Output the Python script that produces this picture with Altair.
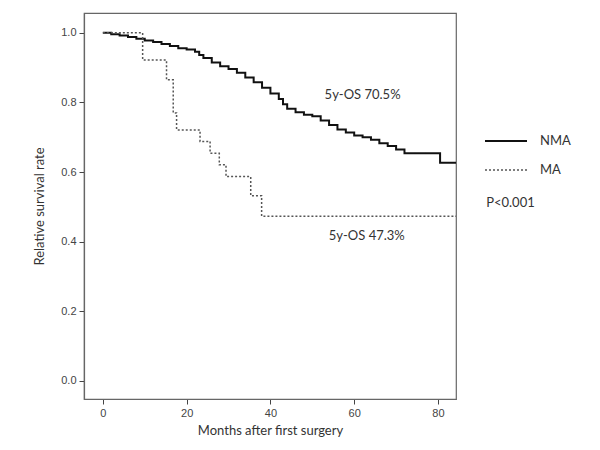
import altair as alt
import pandas as pd

groups = ["NMA", "MA"]

nma_months = [0, 2, 4, 6, 8, 10, 12, 14, 16, 18, 20, 22, 23, 24, 26, 28, 30, 32, 34, 36,
              38, 40, 42, 43, 44, 46, 48, 50, 52, 54, 56, 58, 60, 62, 64, 66, 68, 70, 72,
              80.5, 85]
nma_surv = [1.0, 0.996, 0.992, 0.988, 0.983, 0.978, 0.974, 0.968, 0.962, 0.956, 0.952,
            0.946, 0.936, 0.928, 0.915, 0.904, 0.896, 0.885, 0.872, 0.858, 0.842, 0.826,
            0.810, 0.795, 0.782, 0.772, 0.765, 0.760, 0.748, 0.735, 0.722, 0.714, 0.705,
            0.700, 0.693, 0.683, 0.675, 0.665, 0.654, 0.627, 0.627]

ma_months = [0, 9.5, 15.2, 16.8, 17.6, 23.2, 25.6, 27.8, 29.4, 35.3, 37.9, 85]
ma_surv = [1.0, 0.922, 0.865, 0.77, 0.721, 0.688, 0.654, 0.621, 0.587, 0.532, 0.473, 0.473]

ann_x = [62, 63, 91.5]
ann_y = [0.822, 0.417, 0.511]
ann_text = ["5y-OS 70.5%", "5y-OS 47.3%", "P<0.001"]
ann_align = ["center", "center", "left"]

df = pd.concat([
    pd.DataFrame({"month": nma_months, "surv": nma_surv, "group": "NMA"}),
    pd.DataFrame({"month": ma_months, "surv": ma_surv, "group": "MA"}),
])
ann = pd.DataFrame({"x": ann_x, "y": ann_y, "text": ann_text, "align": ann_align})

xscale = alt.Scale(domain=[-4.5, 84.3], nice=False, zero=False)
yscale = alt.Scale(domain=[-0.052, 1.057], nice=False, zero=False)

leg = alt.Legend(
    title=None, orient="none", legendX=400, legendY=106,
    symbolType="stroke", symbolSize=1764, labelOffset=12,
    labelFont="Lato", labelFontSize=13, labelColor="#333",
    rowPadding=0,
)

lines = alt.Chart(df).mark_line(interpolate="step-after", clip=True).encode(
    x=alt.X("month:Q", scale=xscale,
            axis=alt.Axis(values=[0, 20, 40, 60, 80], title="Months after first surgery",
                          titlePadding=6)),
    y=alt.Y("surv:Q", scale=yscale,
            axis=alt.Axis(values=[0, 0.2, 0.4, 0.6, 0.8, 1.0], format=".1f",
                          title="Relative survival rate", titlePadding=14)),
    color=alt.Color("group:N", scale=alt.Scale(domain=groups, range=["#111111", "#555555"]), legend=leg),
    strokeDash=alt.StrokeDash("group:N", scale=alt.Scale(domain=groups, range=[[1, 0], [2, 2]]), legend=leg),
    strokeWidth=alt.StrokeWidth("group:N", scale=alt.Scale(domain=groups, range=[2, 1.5]), legend=leg),
)

ann_c = alt.Chart(ann[ann["align"] == "center"]).mark_text(
    align="center", baseline="middle", font="Lato", fontSize=13, color="#333"
).encode(x=alt.X("x:Q", scale=xscale), y=alt.Y("y:Q", scale=yscale), text="text:N")

ann_l = alt.Chart(ann[ann["align"] == "left"]).mark_text(
    align="left", baseline="middle", font="Lato", fontSize=13, color="#333"
).encode(x=alt.X("x:Q", scale=xscale), y=alt.Y("y:Q", scale=yscale), text="text:N")

chart = alt.layer(lines, ann_c, ann_l).properties(
    width=372, height=386,
    autosize=alt.AutoSizeParams(type="none"),
    padding={"left": 76, "top": 5, "right": 130, "bottom": 38},
).configure_view(stroke="#666", strokeWidth=1.2).configure_axis(
    grid=False, domainColor="#666", domainWidth=1.2, tickColor="#444", tickSize=5,
    labelFont="Liberation Sans", labelFontSize=11, labelColor="#444", labelPadding=3,
    titleFont="Lato", titleFontSize=13, titleFontWeight="normal", titleColor="#333",
)

chart.save("out.html", embed_options={"renderer": "svg", "actions": False})
